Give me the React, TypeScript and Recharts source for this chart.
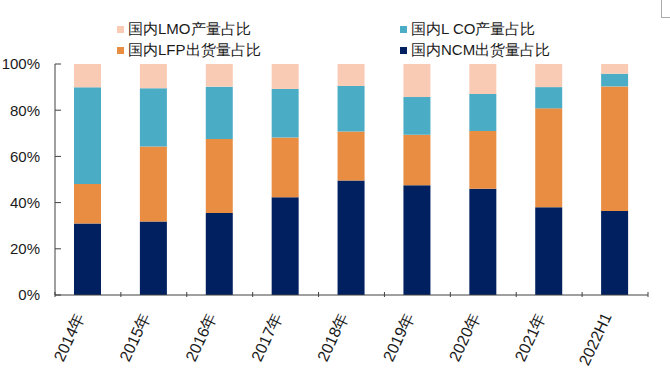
import React from 'react';
import { BarChart, Bar, XAxis, YAxis, Legend } from 'recharts';

const CATEGORIES = ['2014年', '2015年', '2016年', '2017年', '2018年', '2019年', '2020年', '2021年', '2022H1'];
const NCM = [30.9, 31.8, 35.5, 42.3, 49.6, 47.5, 46.0, 38.0, 36.4];
const LFP = [17.2, 32.5, 32.0, 25.9, 21.2, 21.9, 25.0, 42.8, 53.9];
const LCO = [41.8, 25.2, 22.7, 21.0, 19.7, 16.3, 16.0, 9.2, 5.5];
const LMO = [10.1, 10.5, 9.8, 10.8, 9.5, 14.3, 13.0, 10.0, 4.2];
const Y_TICKS = [0, 20, 40, 60, 80, 100];

const SERIES = [
  { key: 'ncm', name: '国内NCM出货量占比', color: '#002060' },
  { key: 'lfp', name: '国内LFP出货量占比', color: '#E88D42' },
  { key: 'lco', name: '国内L CO产量占比', color: '#4BACC6' },
  { key: 'lmo', name: '国内LMO产量占比', color: '#F9CBB4' },
];

// legend grid: two rows, two columns
const LEGEND_ROWS = [
  ['lmo', 'lco'],
  ['lfp', 'ncm'],
];

const FONT = '"Liberation Sans", Arial, sans-serif';
const AXIS = '#404040';

const data = CATEGORIES.map((c, i) => ({
  name: c,
  ncm: NCM[i],
  lfp: LFP[i],
  lco: LCO[i],
  lmo: LMO[i],
}));

const renderLegend = () => (
  <div style={{ position: 'relative', width: 670, height: 60, fontFamily: FONT, fontSize: 15, color: '#1a1a1a' }}>
    {LEGEND_ROWS.map((row, r) =>
      row.map((k, c) => {
        const s = SERIES.find(x => x.key === k)!;
        return (
          <div
            key={k}
            style={{
              position: 'absolute',
              left: c === 0 ? 117 : 400,
              top: r === 0 ? 20 : 41,
              display: 'flex',
              alignItems: 'center',
              whiteSpace: 'nowrap',
              lineHeight: '18px',
            }}
          >
            <span style={{ width: 7, height: 7, background: s.color, marginRight: 4, display: 'inline-block' }} />
            <span>{s.name}</span>
          </div>
        );
      })
    )}
  </div>
);

// category label plus a tick mark on the band boundary (inside the plot)
const CatTick = (props: any) => {
  const { x, y, payload, index, visibleTicksCount } = props;
  const half = payload.offset || 0;
  const isLast = index === visibleTicksCount - 1;
  return (
    <g>
      <line x1={x - half} x2={x - half} y1={y} y2={y - 5} stroke={AXIS} />
      {isLast && <line x1={x + half} x2={x + half} y1={y} y2={y - 5} stroke={AXIS} />}
      <g transform={`translate(${x - 3},${y + 19})`}>
        <text
          x={0}
          y={0}
          textAnchor="end"
          transform="rotate(-65)"
          fontFamily={FONT}
          fontSize={16}
          fill="#1a1a1a"
        >
          {payload.value}
        </text>
      </g>
    </g>
  );
};

export default function App() {
  return (
    <div style={{ position: 'absolute', left: 0, top: 0, width: 670, height: 384, background: '#fff' }}>
      <BarChart
        width={670}
        height={384}
        data={data}
        margin={{ top: 64, right: 22, bottom: 0, left: 0 }}
        barSize={27}
      >
        <XAxis
          dataKey="name"
          height={89}
          interval={0}
          axisLine={{ stroke: AXIS }}
          tickLine={false}
          tickSize={0}
          tick={<CatTick />}
        />
        <YAxis
          width={55}
          domain={[0, 100]}
          ticks={Y_TICKS}
          interval={0}
          tickFormatter={(v: number) => `${v}%`}
          axisLine={{ stroke: AXIS }}
          tickLine={{ stroke: AXIS }}
          tickSize={-6}
          tickMargin={21}
          tick={{ fontFamily: FONT, fontSize: 15, fill: '#1a1a1a' }}
        />
        <Legend
          layout="horizontal"
          verticalAlign="middle"
          align="center"
          content={renderLegend}
          wrapperStyle={{ top: 0, left: 0, width: 670, height: 60 }}
        />
        {SERIES.map(s => (
          <Bar
            key={s.key}
            dataKey={s.key}
            name={s.name}
            stackId="a"
            fill={s.color}
            isAnimationActive={false}
          />
        ))}
      </BarChart>
      <div
        style={{
          position: 'absolute',
          left: 661,
          top: 0,
          width: 9,
          height: 17,
          borderLeft: '1px solid #aaa',
          borderBottom: '1px solid #aaa',
        }}
      />
    </div>
  );
}
